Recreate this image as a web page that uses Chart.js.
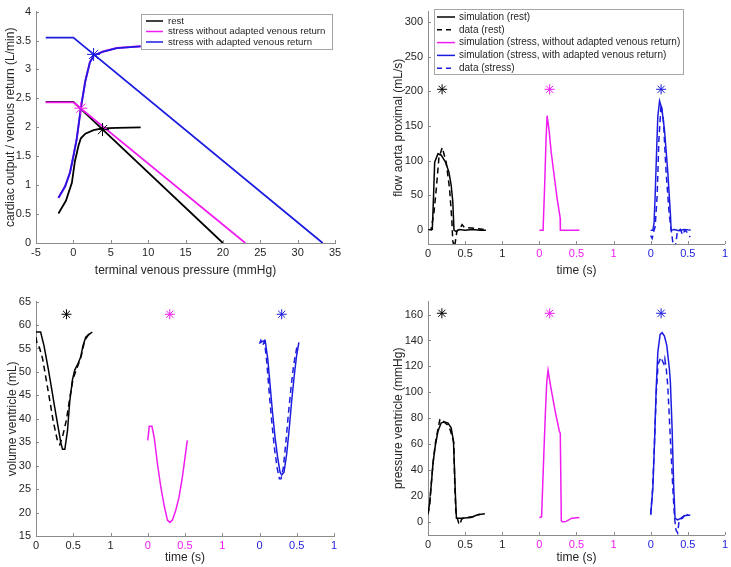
<!DOCTYPE html>
<html>
<head>
<meta charset="utf-8">
<script src="https://cdn.jsdelivr.net/npm/chart.js@4.4.0/dist/chart.umd.min.js"></script>
<style>
  body { margin: 0; background: #fff; width: 731px; height: 567px; position: relative; overflow: hidden; }
  canvas { position: absolute; }
</style>
</head>
<body>
<canvas id="cVr" width="345" height="280" style="left:0;top:0"></canvas>
<canvas id="cFlow" width="343" height="280" style="left:388px;top:0"></canvas>
<canvas id="cVol" width="345" height="277" style="left:0;top:290px"></canvas>
<canvas id="cPres" width="343" height="277" style="left:388px;top:290px"></canvas>
<script>
// cores (estilo matlab)
const BLACK = '#000000';
const MAGENTA = '#f01cf0';
const BLUE = '#1c1ce0';
const TXT = '#262626';
const AXIS = '#8c8c8c';
const FONT = '"Liberation Sans", Arial, Helvetica, sans-serif';

// ---- painel 1: debito cardiaco / retorno venoso ----
const pressureTicks = [-5, 0, 5, 10, 15, 20, 25, 30, 35];
const outputTicks = [0, 0.5, 1, 1.5, 2, 2.5, 3, 3.5, 4];
const coRestP = [-2, -1, -0.2, 0.2, 0.7, 1.0, 1.6, 2.7, 3.8, 5.8, 9];
const coRest = [0.51, 0.73, 1.04, 1.41, 1.69, 1.81, 1.89, 1.95, 1.98, 1.99, 2.0];
const coStressP = [-2, -1.1, -0.45, 0, 0.45, 1.0, 1.6, 2.2, 2.7, 4, 5.8, 9];
const coStress = [0.78, 0.98, 1.22, 1.5, 1.8, 2.33, 2.8, 3.12, 3.24, 3.31, 3.37, 3.40];
const vrRestP = [-3.7, 0, 20];
const vrRest = [2.44, 2.44, 0];
const vrStressP = [-3.7, 0, 23];
const vrStress = [2.43, 2.43, 0];
const vrAdaptP = [-3.7, 0, 33.35];
const vrAdapt = [3.55, 3.55, 0];
const opPointP = [3.9, 1.0, 2.7];
const opPoint = [1.96, 2.33, 3.26];

// ---- eixo de tempo partilhado (tres ciclos lado a lado) ----
const segOffset = [0, 1.5, 3];
const timeTicks = [0, 0.5, 1, 1.5, 2, 2.5, 3, 3.5, 4];
const timeTickLabels = ['0', '0.5', '1', '0', '0.5', '1', '0', '0.5', '1'];
const timeTickColors = [TXT, TXT, TXT, MAGENTA, MAGENTA, MAGENTA, BLUE, BLUE, BLUE];

// ---- painel 2: fluxo aorta proximal ----
const flowTicks = [0, 50, 100, 150, 200, 250, 300];
const flowRestT = [0, 0.058, 0.075, 0.09, 0.134, 0.178, 0.236, 0.281, 0.312, 0.334, 0.35, 0.38, 0.42, 0.5, 0.6, 0.7, 0.78];
const flowRestSim = [0, 1, 50, 98, 110, 108, 98, 84, 65, 41, 0, -2, 1, 0, 1, 0, 0];
const flowRestDataT = [0, 0.04, 0.08, 0.112, 0.147, 0.192, 0.245, 0.29, 0.32, 0.334, 0.357, 0.39, 0.43, 0.459, 0.49, 0.58, 0.69, 0.75];
const flowRestData = [0, 0, 25, 60, 104, 119, 98, 60, 17, -16, -25, -1, 2, 8, 4, 3, 2, 1];
const flowStressT = [0, 0.05, 0.07, 0.09, 0.104, 0.13, 0.16, 0.2, 0.24, 0.28, 0.283, 0.54];
const flowStress = [0, 0, 60, 130, 165, 145, 112, 78, 45, 18, 0, 0];
const flowAdaptT = [0, 0.03, 0.045, 0.06, 0.082, 0.096, 0.119, 0.15, 0.185, 0.23, 0.266, 0.275, 0.32, 0.38, 0.45, 0.54];
const flowAdapt = [0, 0, 10, 50, 122, 164, 186, 175, 145, 84, 22, 0, 1, -1, 1, 0];
const flowAdaptDataT = [0, 0.02, 0.04, 0.06, 0.087, 0.11, 0.14, 0.17, 0.207, 0.25, 0.296, 0.33, 0.36, 0.4, 0.43, 0.46, 0.5, 0.53];
const flowAdaptData = [-8, -12, -2, 5, 50, 130, 181, 160, 84, 22, -16, -25, -2, 1, -7, 0, -4, -10];
const flowStarT = [0.19, 0.139, 0.14];
const flowStarV = 203;

// ---- painel 3: volume ventriculo ----
const volTicks = [15, 20, 25, 30, 35, 40, 45, 50, 55, 60, 65];
const volRestT = [0, 0.062, 0.107, 0.164, 0.209, 0.253, 0.298, 0.333, 0.356, 0.387, 0.422, 0.453, 0.489, 0.52, 0.564, 0.6, 0.631, 0.667, 0.72, 0.756];
const volRestSim = [58.5, 58.5, 55.6, 50.7, 46.5, 42.3, 38.1, 34.9, 33.5, 33.5, 37.4, 43.7, 48.3, 50.4, 51.8, 53.2, 55.6, 57.4, 58.1, 58.5];
const volRestDataT = [0, 0.018, 0.044, 0.089, 0.142, 0.187, 0.231, 0.284, 0.32, 0.364, 0.409, 0.453, 0.498, 0.564, 0.609, 0.653, 0.711];
const volRestData = [57.4, 55.6, 55.3, 52.8, 47.9, 43.7, 39.5, 35.6, 34.5, 36.7, 39.8, 44.4, 48.6, 51.4, 53.5, 56.7, 58.1];
const volStressT = [0, 0.02, 0.056, 0.087, 0.131, 0.176, 0.22, 0.264, 0.296, 0.331, 0.376, 0.42, 0.464, 0.5, 0.531];
const volStress = [35.4, 38.4, 38.4, 36, 30.3, 25.4, 21.5, 18.4, 17.9, 18.4, 20.5, 23.3, 27.5, 31.7, 35.4];
const volAdaptT = [0.009, 0.076, 0.111, 0.142, 0.173, 0.209, 0.244, 0.276, 0.298, 0.329, 0.364, 0.396, 0.431, 0.467, 0.498, 0.529];
const volAdapt = [56.4, 56.7, 52.8, 47.2, 41.6, 36, 31.7, 28.6, 28, 28.6, 32.4, 37.4, 43.7, 49.3, 53.5, 56.3];
const volAdaptDataT = [0, 0.018, 0.04, 0.067, 0.098, 0.129, 0.164, 0.2, 0.236, 0.267, 0.289, 0.32, 0.351, 0.387, 0.422, 0.458, 0.498, 0.52];
const volAdaptData = [56, 56.7, 55.6, 56.5, 52.1, 45.8, 39.5, 33.8, 29.6, 27.2, 27.2, 29.6, 34.5, 40.9, 46.5, 51.4, 55, 56];
const volStarT = [0.409, 0.296, 0.298];
const volStarV = 62.3;

// ---- painel 4: pressao ventriculo ----
const presTicks = [0, 20, 40, 60, 80, 100, 120, 140, 160];
const presRestT = [0, 0.022, 0.045, 0.067, 0.098, 0.134, 0.178, 0.223, 0.267, 0.312, 0.343, 0.356, 0.37, 0.383, 0.445, 0.579, 0.668, 0.766];
const presRestSim = [6.8, 14.4, 29.6, 44.8, 58.7, 70, 76.5, 77.2, 76.5, 72.7, 62.5, 42.3, 19.5, 3, 3, 3.5, 5.6, 6.3];
const presRestDataT = [0, 0.02, 0.045, 0.07, 0.1, 0.135, 0.16, 0.187, 0.22, 0.26, 0.3, 0.335, 0.347, 0.36, 0.375, 0.4, 0.414, 0.432, 0.45, 0.49, 0.6, 0.7];
const presRestData = [6, 12, 30, 47, 61, 72, 79, 79.5, 77, 75, 71, 64, 61, 30, 8, 2, -0.8, -2, 2, 3.3, 4, 6];
const presStressT = [0, 0.03, 0.06, 0.082, 0.1, 0.117, 0.157, 0.215, 0.269, 0.282, 0.296, 0.314, 0.36, 0.437, 0.54];
const presStress = [3.5, 4, 52, 85, 108, 117, 103, 85, 70, 68.6, 1, 0, 0.5, 3, 3.5];
const presAdaptT = [0, 0.03, 0.052, 0.074, 0.096, 0.127, 0.154, 0.185, 0.217, 0.252, 0.265, 0.288, 0.31, 0.328, 0.363, 0.408, 0.453, 0.533];
const presAdapt = [5.5, 27, 62.5, 103, 131, 144.7, 146, 143.5, 136, 118, 108, 72.6, 27, 3, 1.7, 3, 4.8, 5.5];
const presAdaptDataT = [0, 0.025, 0.05, 0.075, 0.1, 0.119, 0.14, 0.16, 0.176, 0.19, 0.21, 0.23, 0.26, 0.297, 0.32, 0.34, 0.363, 0.385, 0.43, 0.475, 0.5];
const presAdaptData = [6, 25, 60, 100, 122, 124.5, 127, 124, 122, 126, 118, 105, 70, 27, 4, -6, -8.4, 2, 3, 7, 5];
const presStarT = [0.187, 0.14, 0.14];
const presStarV = 161;

const starColors = [BLACK, MAGENTA, BLUE];

// ---------------------------------------------------------------
function pts(xs, ys, off) {
    return xs.map((x, i) => ({ x: x + (off || 0), y: ys[i] }));
}

function line(data, color, dashed, width) {
    return {
        data: data,
        borderColor: color,
        borderWidth: width || 1.5,
        borderDash: dashed ? [6, 4] : [],
        showLine: true,
        pointRadius: 0,
        tension: 0,
        fill: false
    };
}

function star(x, y, color, r) {
    return {
        data: [{ x: x, y: y }],
        borderColor: color,
        backgroundColor: color,
        pointStyle: 'star',
        pointRadius: r,
        borderWidth: 1,
        showLine: false
    };
}

// ticks para dentro, como no matlab
const innerTicks = {
    id: 'innerTicks',
    afterDraw(chart) {
        const ctx = chart.ctx, a = chart.chartArea;
        const sx = chart.scales.x, sy = chart.scales.y;
        ctx.save();
        ctx.strokeStyle = AXIS;
        ctx.lineWidth = 1;
        sx.ticks.forEach(t => {
            const px = Math.round(sx.getPixelForValue(t.value)) + 0.5;
            ctx.beginPath(); ctx.moveTo(px, a.bottom); ctx.lineTo(px, a.bottom - 3); ctx.stroke();
        });
        sy.ticks.forEach(t => {
            const py = Math.round(sy.getPixelForValue(t.value)) + 0.5;
            ctx.beginPath(); ctx.moveTo(a.left, py); ctx.lineTo(a.left + 3, py); ctx.stroke();
        });
        ctx.restore();
    }
};

// legenda em caixa dentro do grafico
function boxLegend(box, items) {
    return {
        id: 'boxLegend',
        afterDraw(chart) {
            const ctx = chart.ctx;
            ctx.save();
            ctx.fillStyle = '#fff';
            ctx.fillRect(box.x, box.y, box.w, box.h);
            ctx.strokeStyle = '#a6a6a6';
            ctx.lineWidth = 1;
            ctx.strokeRect(box.x + 0.5, box.y + 0.5, box.w, box.h);
            ctx.font = box.font + 'px ' + FONT;
            ctx.textBaseline = 'middle';
            items.forEach((it, i) => {
                const y = box.y + box.first + i * box.rowH;
                ctx.strokeStyle = it.color;
                ctx.lineWidth = 1.5;
                ctx.setLineDash(it.dashed ? [5, 4] : []);
                ctx.beginPath(); ctx.moveTo(box.x + box.l0, y); ctx.lineTo(box.x + box.l1, y); ctx.stroke();
                ctx.setLineDash([]);
                ctx.fillStyle = TXT;
                ctx.fillText(it.label, box.x + box.tx, y);
            });
            ctx.restore();
        }
    };
}

function yAxis(min, max, tickVals, title, width, titlePad) {
    return {
        type: 'linear', position: 'left', min: min, max: max,
        grid: { display: false, drawTicks: false },
        border: { display: true, color: AXIS, width: 1 },
        afterBuildTicks: s => { s.ticks = tickVals.map(v => ({ value: v })); },
        ticks: { padding: 5, color: TXT, autoSkip: false, font: { size: 11, family: FONT }, callback: v => String(v) },
        title: { display: true, text: title, color: TXT, font: { size: 12, family: FONT }, padding: { top: titlePad, bottom: 0 } },
        afterFit: s => { s.width = width; }
    };
}

function xAxis(min, max, tickVals, labels, colors, title, height) {
    return {
        type: 'linear', position: 'bottom', min: min, max: max,
        grid: { display: false, drawTicks: false },
        border: { display: true, color: AXIS, width: 1 },
        afterBuildTicks: s => { s.ticks = tickVals.map(v => ({ value: v })); },
        ticks: {
            padding: 3, autoSkip: false, maxRotation: 0, font: { size: 11, family: FONT },
            callback: (v, i) => labels ? labels[i] : String(v),
            color: c => colors ? colors[c.index] : TXT
        },
        title: { display: true, text: title, color: TXT, font: { size: 12, family: FONT }, padding: { top: 0, bottom: 2 } },
        afterFit: s => { s.height = height; }
    };
}

function timeAxis(height) {
    return xAxis(0, 4, timeTicks, timeTickLabels, timeTickColors, 'time (s)', height);
}

function makeChart(id, datasets, scales, padding, extraPlugins) {
    // chart.js desenha o primeiro dataset por cima, por isso inverte-se a ordem
    return new Chart(document.getElementById(id), {
        type: 'scatter',
        data: { datasets: datasets.slice().reverse() },
        options: {
            responsive: false, animation: false, devicePixelRatio: 1, events: [],
            layout: { padding: padding },
            plugins: { legend: { display: false }, tooltip: { enabled: false } },
            scales: scales
        },
        plugins: [innerTicks].concat(extraPlugins || [])
    });
}

// painel 1
makeChart('cVr', [
    line(pts(coRestP, coRest), BLACK, false, 1.8),
    line(pts(vrRestP, vrRest), BLACK, false, 1.8),
    line(pts(coStressP, coStress), MAGENTA, false, 2),
    line(pts(vrStressP, vrStress), MAGENTA, false, 1.8),
    line(pts(coStressP, coStress), BLUE, false, 1.8),
    line(pts(vrAdaptP, vrAdapt), BLUE, false, 1.8),
    star(opPointP[0], opPoint[0], BLACK, 6.5),
    star(opPointP[1], opPoint[1], MAGENTA, 6.5),
    star(opPointP[2], opPoint[2], BLUE, 6.5)
], {
    x: xAxis(-5, 35, pressureTicks, null, null, 'terminal venous pressure (mmHg)', 37),
    y: yAxis(0, 4, outputTicks, 'cardiac output / venous return (L/min)', 36, 3)
}, { top: 8, right: 10, left: 0, bottom: 0 }, [
    boxLegend({ x: 141, y: 14, w: 191, h: 35, first: 7, rowH: 10.5, l0: 5, l1: 22, tx: 27, font: 9.6 }, [
        { label: 'rest', color: BLACK },
        { label: 'stress without adapted venous return', color: MAGENTA },
        { label: 'stress with adapted venous return', color: BLUE }
    ])
]);

// painel 2
makeChart('cFlow', [
    line(pts(flowRestT, flowRestSim, segOffset[0]), BLACK),
    line(pts(flowRestDataT, flowRestData, segOffset[0]), BLACK, true),
    line(pts(flowStressT, flowStress, segOffset[1]), MAGENTA),
    line(pts(flowAdaptT, flowAdapt, segOffset[2]), BLUE),
    line(pts(flowAdaptDataT, flowAdaptData, segOffset[2]), BLUE, true),
    star(flowStarT[0] + segOffset[0], flowStarV, starColors[0], 5),
    star(flowStarT[1] + segOffset[1], flowStarV, starColors[1], 5),
    star(flowStarT[2] + segOffset[2], flowStarV, starColors[2], 5)
], {
    x: timeAxis(36),
    y: yAxis(-20, 315, flowTicks, 'flow aorta proximal (mL/s)', 40, 3)
}, { top: 8, right: 3, left: 0, bottom: 0 }, [
    boxLegend({ x: 46, y: 9, w: 249, h: 65, first: 8, rowH: 12.8, l0: 3, l1: 21, tx: 25, font: 10 }, [
        { label: 'simulation (rest)', color: BLACK },
        { label: 'data (rest)', color: BLACK, dashed: true },
        { label: 'simulation (stress, without adapted venous return)', color: MAGENTA },
        { label: 'simulation (stress, with adapted venous return)', color: BLUE },
        { label: 'data (stress)', color: BLUE, dashed: true }
    ])
]);

// painel 3
makeChart('cVol', [
    line(pts(volRestT, volRestSim, segOffset[0]), BLACK),
    line(pts(volRestDataT, volRestData, segOffset[0]), BLACK, true),
    line(pts(volStressT, volStress, segOffset[1]), MAGENTA),
    line(pts(volAdaptT, volAdapt, segOffset[2]), BLUE),
    line(pts(volAdaptDataT, volAdaptData, segOffset[2]), BLUE, true),
    star(volStarT[0] + segOffset[0], volStarV, starColors[0], 5),
    star(volStarT[1] + segOffset[1], volStarV, starColors[1], 5),
    star(volStarT[2] + segOffset[2], volStarV, starColors[2], 5)
], {
    x: timeAxis(31),
    y: yAxis(15, 65, volTicks, 'volume ventricle (mL)', 36, 5)
}, { top: 9, right: 11, left: 0, bottom: 0 });

// painel 4
makeChart('cPres', [
    line(pts(presRestT, presRestSim, segOffset[0]), BLACK),
    line(pts(presRestDataT, presRestData, segOffset[0]), BLACK, true),
    line(pts(presStressT, presStress, segOffset[1]), MAGENTA),
    line(pts(presAdaptT, presAdapt, segOffset[2]), BLUE),
    line(pts(presAdaptDataT, presAdaptData, segOffset[2]), BLUE, true),
    star(presStarT[0] + segOffset[0], presStarV, starColors[0], 5),
    star(presStarT[1] + segOffset[1], presStarV, starColors[1], 5),
    star(presStarT[2] + segOffset[2], presStarV, starColors[2], 5)
], {
    x: timeAxis(32),
    y: yAxis(-10, 170, presTicks, 'pressure ventricle (mmHg)', 40, 3)
}, { top: 8, right: 3, left: 0, bottom: 0 });
</script>
</body>
</html>
